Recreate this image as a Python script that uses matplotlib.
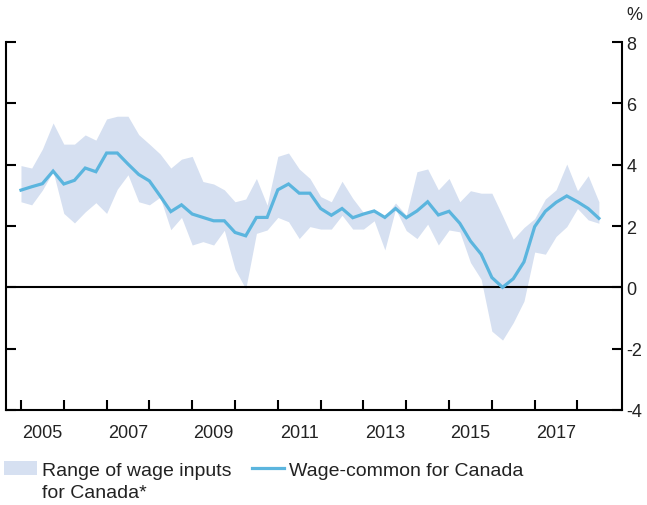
import numpy as np
import matplotlib
matplotlib.use("Agg")
import matplotlib.pyplot as plt
from matplotlib.patches import Rectangle
from matplotlib.lines import Line2D

plt.rcParams['font.family'] = ['Liberation Sans', 'DejaVu Sans']
plt.rcParams['axes.unicode_minus'] = False

# quarterly data, starting 2005Q1
start_year = 2005
wage_common = [3.17, 3.28, 3.38, 3.79, 3.37, 3.49, 3.89, 3.77, 4.38, 4.38,
               4.02, 3.68, 3.47, 2.98, 2.47, 2.69, 2.39, 2.28, 2.17, 2.17,
               1.79, 1.68, 2.28, 2.28, 3.18, 3.37, 3.07, 3.07, 2.57, 2.35,
               2.57, 2.27, 2.39, 2.49, 2.28, 2.57, 2.27, 2.49, 2.79, 2.36,
               2.48, 2.09, 1.51, 1.08, 0.32, 0.00, 0.28, 0.83, 1.98, 2.48,
               2.77, 2.98, 2.79, 2.57, 2.25]
range_high = [3.97, 3.89, 4.51, 5.36, 4.67, 4.67, 4.97, 4.80, 5.49, 5.58,
              5.58, 4.98, 4.67, 4.35, 3.89, 4.18, 4.27, 3.45, 3.37, 3.18,
              2.79, 2.88, 3.55, 2.68, 4.27, 4.38, 3.86, 3.55, 2.96, 2.79,
              3.46, 2.90, 2.44, 2.55, 2.30, 2.75, 2.35, 3.77, 3.86, 3.18,
              3.55, 2.79, 3.15, 3.07, 3.07, 2.33, 1.57, 1.95, 2.24, 2.88,
              3.18, 4.02, 3.15, 3.64, 2.79]
range_low = [2.79, 2.69, 3.17, 3.78, 2.41, 2.10, 2.46, 2.76, 2.41, 3.20,
             3.67, 2.79, 2.69, 2.94, 1.88, 2.28, 1.38, 1.49, 1.38, 1.86,
             0.59, -0.05, 1.76, 1.87, 2.28, 2.14, 1.59, 1.98, 1.90, 1.90,
             2.35, 1.90, 1.90, 2.17, 1.22, 2.55, 1.85, 1.59, 2.06, 1.38,
             1.87, 1.81, 0.81, 0.26, -1.43, -1.72, -1.15, -0.45, 1.15, 1.08,
             1.66, 1.98, 2.57, 2.20, 2.09]
year_ticks = list(range(2005, 2019))
year_labels = ['2005', '2007', '2009', '2011', '2013', '2015', '2017']

line_color = '#5bb5de'
band_color = '#d6e0f1'
text_color = '#222222'

x = start_year + np.arange(len(wage_common)) / 4.0

fig = plt.figure(figsize=(6.47, 5.06), dpi=100)
ax = fig.add_axes([6/647, 95/506, 616/647, 368/506])

ax.fill_between(x, range_low, range_high, color=band_color, lw=0)
ax.axhline(0, color='black', lw=1.5)
ax.plot(x, wage_common, color=line_color, lw=2.3, solid_joinstyle='miter')

ax.set_xlim(2004.65, 2019.04)
ax.set_ylim(-4, 8)

for side in ['left', 'right', 'bottom']:
    ax.spines[side].set_linewidth(1.5)
ax.spines['top'].set_visible(False)

ax.set_yticks(range(-4, 9, 2))
ax.tick_params(axis='y', left=True, right=True, labelleft=False, labelright=True,
               direction='in', length=7.5, width=1.5, pad=3, labelsize=13,
               labelcolor=text_color)

ax.set_xticks(year_ticks)
ax.set_xticklabels([])
ax.set_xticks([int(y) + 0.5 for y in year_labels], minor=True)
ax.set_xticklabels(year_labels, minor=True)
ax.tick_params(axis='x', which='major', direction='in', length=7.5, width=1.5)
ax.tick_params(axis='x', which='minor', length=0, pad=10, labelsize=13,
               labelcolor=text_color)

fig.text(634/647, 1 - 16/506, '%', ha='center', va='center', fontsize=13,
         color=text_color)

# legend
fig.add_artist(Rectangle((4/647, 1 - 476/506), 33/647, 14/506,
                         transform=fig.transFigure, color=band_color, lw=0))
fig.text(42/647, 1 - 476/506, 'Range of wage inputs', fontsize=14,
         color=text_color, va='baseline')
fig.text(42/647, 1 - 498/506, 'for Canada*', fontsize=14,
         color=text_color, va='baseline')
fig.add_artist(Line2D([252/647, 284/647], [1 - 469/506, 1 - 469/506],
                      transform=fig.transFigure, color=line_color, lw=2.3))
fig.text(289/647, 1 - 476/506, 'Wage-common for Canada', fontsize=14,
         color=text_color, va='baseline')

fig.savefig('out.png', dpi=100)
